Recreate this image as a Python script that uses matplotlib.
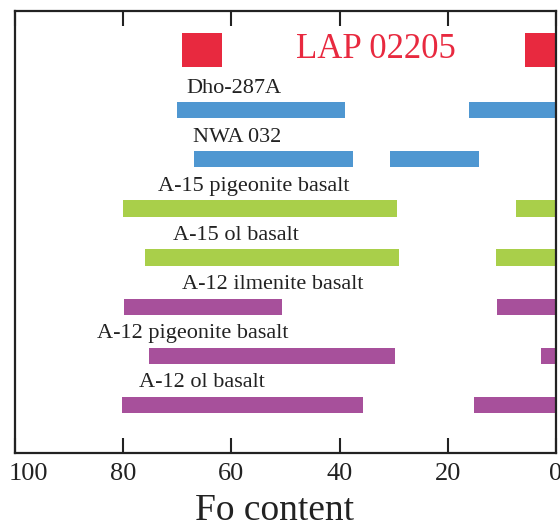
import matplotlib
matplotlib.use("Agg")
import matplotlib.pyplot as plt
import matplotlib.transforms as mtransforms

plt.rcParams['font.family'] = ['Liberation Serif', 'DejaVu Serif']

# ----- data: Fo ranges (start, end) for each rock type -----
rows = ["LAP 02205", "Dho-287A", "NWA 032", "A-15 pigeonite basalt",
        "A-15 ol basalt", "A-12 ilmenite basalt", "A-12 pigeonite basalt",
        "A-12 ol basalt"]
ranges = [
    [(69.1, 61.7), (5.7, -2)],
    [(70.1, 39.0), (16.1, -2)],
    [(66.9, 37.5), (30.7, 14.2)],
    [(80.0, 29.4), (7.4, -2)],
    [(76.0, 29.0), (11.1, -2)],
    [(79.9, 50.6), (10.9, -2)],
    [(75.2, 29.8), (2.8, -2)],
    [(80.2, 35.7), (15.2, -2)],
]
colors = ['#e8293f', '#4f97d1', '#4f97d1', '#a9cf4a', '#a9cf4a',
          '#a7509b', '#a7509b', '#a7509b']
xticks = [100, 80, 60, 40, 20, 0]

# layout
ypos = [0, 1.23, 2.23, 3.23, 4.23, 5.23, 6.23, 7.23]
heights = [0.69] + [0.33] * 7
label_x = [33.3, 68.4, 67.1, 73.6, 70.8, 69.1, 84.8, 77.1]

fig = plt.figure(figsize=(5.6, 5.31), dpi=100)
ax = fig.add_axes([0.0268, 0.147, 0.9661, 0.832])

for i, name in enumerate(rows):
    for a, b in ranges[i]:
        ax.barh(ypos[i], b - a, left=a, height=heights[i],
                color=colors[i], edgecolor='none')
    if i == 0:
        ax.text(label_x[i], ypos[i], name, color=colors[i], fontsize=25,
                ha='center', va='center')
    else:
        ax.text(label_x[i], ypos[i] - 0.45, name, color='#222222',
                fontsize=16, ha='left', va='center')

ax.set_xlim(100, 0)
ax.set_ylim(8.21, -0.79)
ax.set_yticks([])
ax.set_xticks(xticks)
ax.tick_params(axis='x', direction='in', top=True, length=11, width=1.5,
               labelsize=19, pad=7, colors='#222222')
for s in ax.spines.values():
    s.set_linewidth(1.6)
    s.set_color('#222222')
ax.set_xlabel("Fo content", fontsize=27, color='#222222')
ax.xaxis.set_label_coords(0.48, -0.092)

# nudge the "100" label in from the edge
lab = ax.get_xticklabels()[0]
lab.set_transform(lab.get_transform() +
                  mtransforms.ScaledTranslation(10 / 72, 0, fig.dpi_scale_trans))

fig.savefig("out.png", dpi=100)
